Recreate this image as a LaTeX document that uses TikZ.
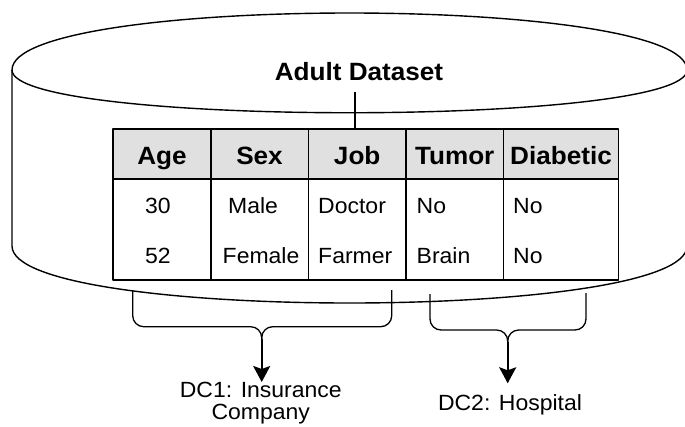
\documentclass[tikz,border=0pt]{standalone}
\usepackage{fontspec}
\setmainfont{Liberation Sans}[FakeStretch=1.045]
\usetikzlibrary{arrows.meta}
\definecolor{hdr}{HTML}{E0E0E0}
\begin{document}
\begin{tikzpicture}[x=1pt,y=-1pt,
  line join=round,
  cyl/.style={draw=black, line width=1.4pt, fill=white},
  cell/.style={draw=black, line width=1.5pt},
  htxt/.style={inner sep=0pt, anchor=base, font=\fontsize{25}{27}\selectfont\bfseries},
  dtxt/.style={inner sep=0pt, anchor=base west, font=\fontsize{22}{23}\selectfont},
  brace/.style={draw=black, line width=1.3pt, rounded corners=11pt},
  arr/.style={draw=black, line width=2pt, -{Stealth[length=16pt,width=17pt,inset=3pt]}},
  lbl/.style={inner sep=0pt, anchor=base, font=\fontsize{22}{23}\selectfont}]

\useasboundingbox (0,0) rectangle (685,426);

% cylinder
\path[cyl] (12,70) .. controls (12,-6) and (687,-6) .. (687,70) -- (687,246)
  .. controls (687,322) and (12,322) .. (12,246) -- cycle;
\draw[cyl, fill=none] (12,70) .. controls (12,127) and (687,127) .. (687,70);

% title and its connector
\node[htxt] (title) at (359,80) {Adult Dataset};
\coordinate (tl) at (355,92);
\coordinate (tt) at (355,129);
\draw[line width=1.3pt] (tl) -- (tt);

% table
\fill[white] (113,179) rectangle (618.5,280);
\fill[hdr] (113,129) rectangle (618.5,179);
\draw[cell] (113,129) rectangle (618.5,280);
\draw[cell] (113,179) -- (618.5,179);
\foreach \x in {211,308.5,406,503.5} \draw[cell] (\x,129) -- (\x,280);

\node[htxt] (hAge) at (162,164.3) {Age};
\node[htxt] (hSex) at (259.5,164.3) {Sex};
\node[htxt] (hJob) at (357.2,164.3) {Job};
\node[htxt] (hTum) at (454.7,164.3) {Tumor};
\node[htxt] (hDia) at (561,164.3) {Diabetic};

\node[dtxt] (r1a) at (145,213.3) {30};
\node[dtxt] (r1b) at (228,213.3) {Male};
\node[dtxt] (r1c) at (318,213.3) {Doctor};
\node[dtxt] (r1d) at (416.5,213.3) {No};
\node[dtxt] (r1e) at (513,213.3) {No};

\node[dtxt] (r2a) at (145,263.3) {52};
\node[dtxt] (r2b) at (222.5,263.3) {Female};
\node[dtxt] (r2c) at (318,263.3) {Farmer};
\node[dtxt] (r2d) at (416.5,263.3) {Brain};
\node[dtxt] (r2e) at (513,263.3) {No};

% left brace
\coordinate (b1l) at (132.7,290);
\coordinate (b1r) at (391.7,290);
\coordinate (b1m) at (261.7,339);
\coordinate (a1) at (261.7,382);
\draw[brace] (b1l) |- (261.7,326.7) -- (b1m);
\draw[brace] (b1r) |- (261.7,326.7) -- (b1m);
\draw[arr] (b1m) -- (a1);

% right brace
\coordinate (b2l) at (430,294);
\coordinate (b2r) at (586,293);
\coordinate (b2m) at (507.7,342);
\coordinate (a2) at (507.7,383.3);
\draw[brace] (b2l) |- (507.7,330) -- (b2m);
\draw[brace] (b2r) |- (507.7,330) -- (b2m);
\draw[arr] (b2m) -- (a2);

% labels
\node[lbl] (dc1a) at (260.8,397) {DC1: Insurance};
\node[lbl] (dc1b) at (260.8,419) {Company};
\node[lbl] (dc2) at (510,410.7) {DC2: Hospital};
\end{tikzpicture}
\end{document}
